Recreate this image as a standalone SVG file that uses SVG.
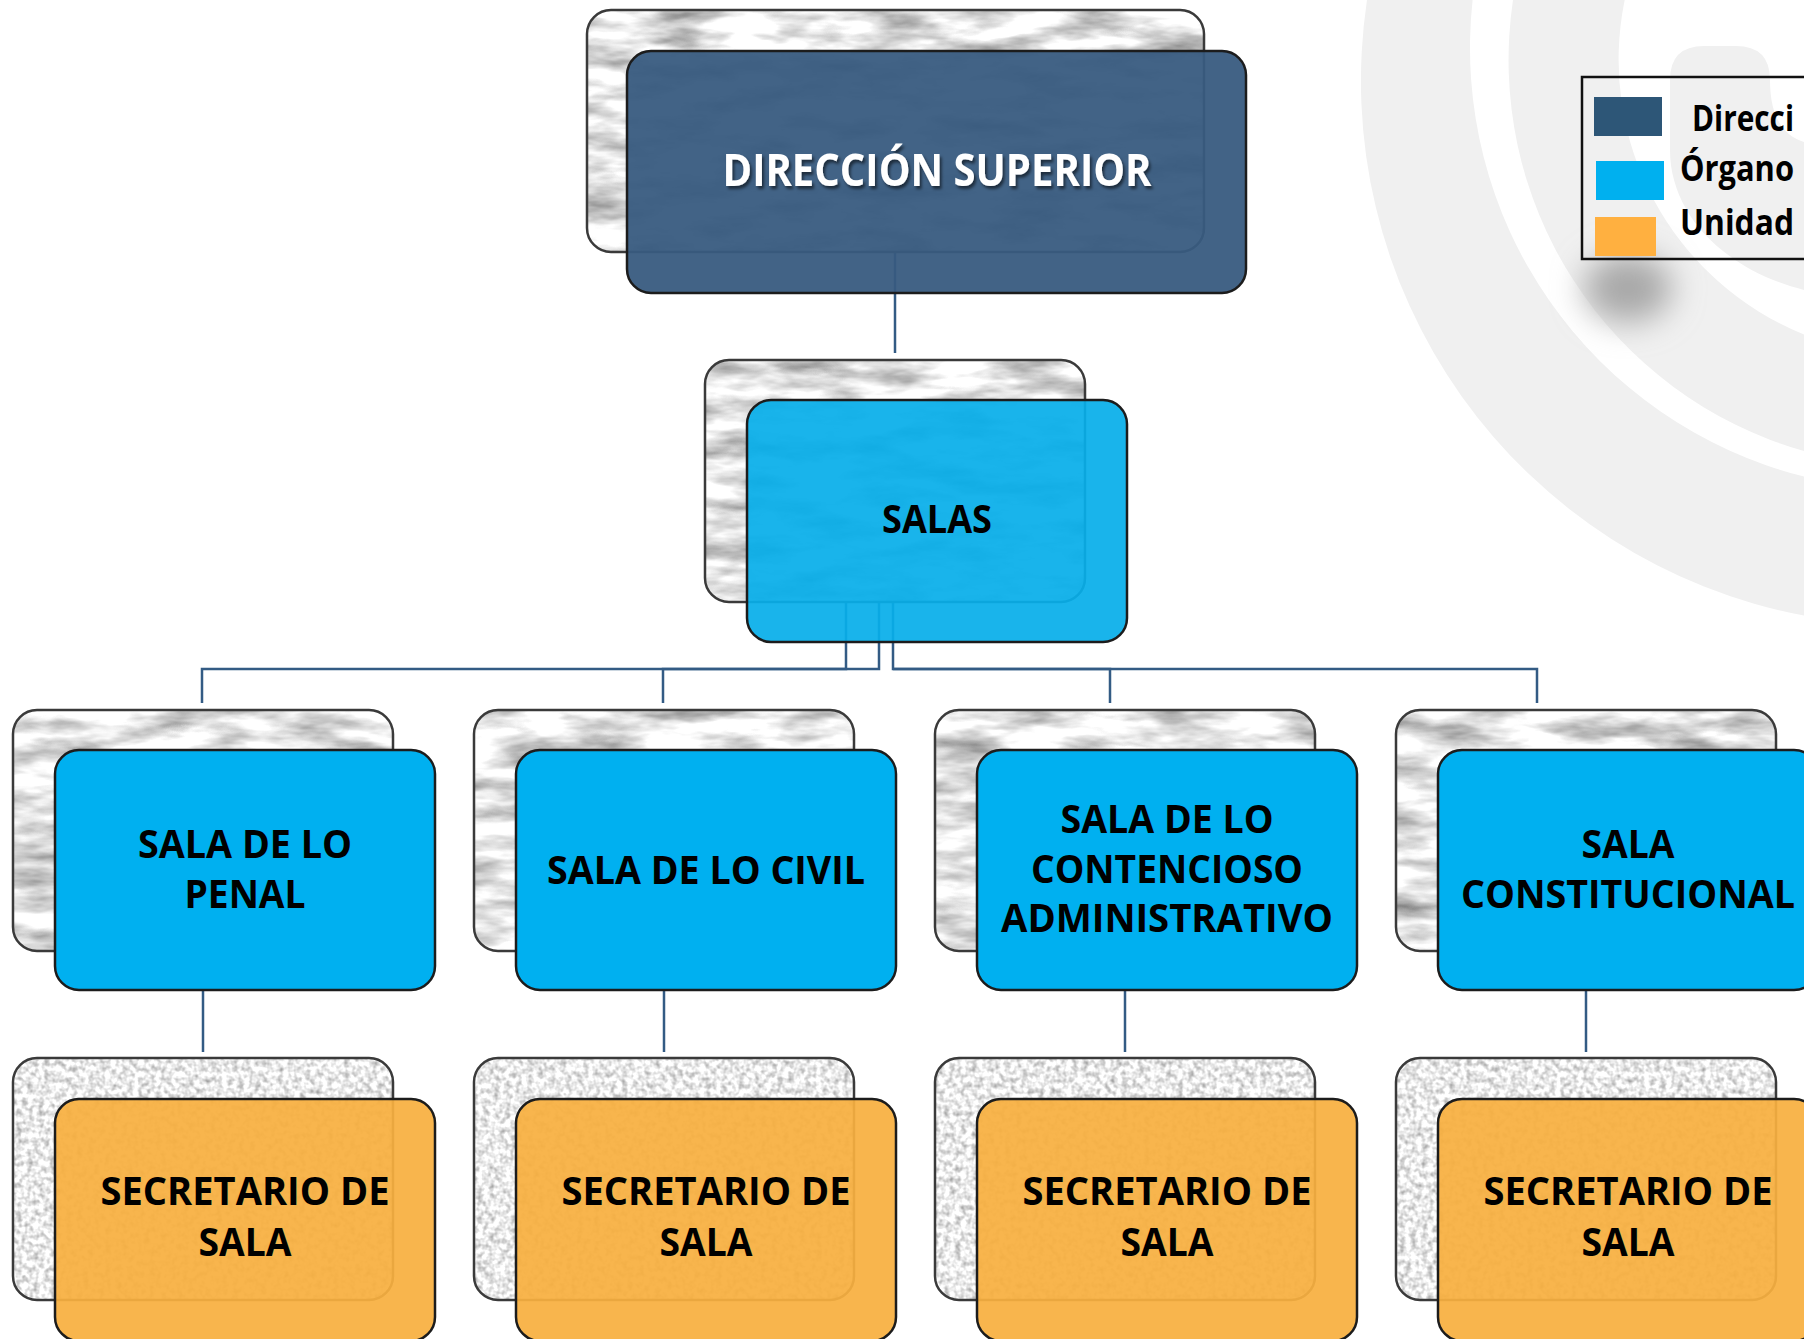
<svg xmlns="http://www.w3.org/2000/svg" width="1804" height="1339" viewBox="0 0 1804 1339">
<defs>
<style>
.bg{fill:#f0f0f0}
.bo{fill:none;stroke:#3a3a3a;stroke-width:2.5}
.fr{stroke:#1c1c1c;stroke-width:2.5}
.dark{fill:#385b80;fill-opacity:.95}
.salas{fill:#08aeea;fill-opacity:.93}
.cyan{fill:#00b0f0}
.orange{fill:#f8af40;fill-opacity:.93}
.conn{fill:none;stroke:#335b84;stroke-width:2.5}
.lbl{font-family:"Open Sans","Liberation Sans",sans-serif;font-weight:700;font-size:39px;fill:#000;text-anchor:middle}
.top{font-size:44px;fill:#fff}
.leg{font-family:"Open Sans","Liberation Sans",sans-serif;font-weight:700;font-size:36px;fill:#000}
</style>
<filter id="marble" x="0" y="0" width="100%" height="100%" color-interpolation-filters="sRGB">
<feTurbulence type="fractalNoise" baseFrequency="0.014 0.05" numOctaves="4" seed="7"/>
<feColorMatrix type="matrix" values="0.9 0 0 0 0.45  0.9 0 0 0 0.45  0.9 0 0 0 0.45  0 0 0 0 1"/>
<feComposite in2="SourceGraphic" operator="in"/>
</filter>
<filter id="granite" x="0" y="0" width="100%" height="100%" color-interpolation-filters="sRGB">
<feTurbulence type="fractalNoise" baseFrequency="0.18" numOctaves="2" seed="3"/>
<feColorMatrix type="matrix" values="0.7 0 0 0 0.57  0.7 0 0 0 0.57  0.7 0 0 0 0.57  0 0 0 0 1"/>
<feComposite in2="SourceGraphic" operator="in"/>
</filter>
<filter id="tshadow" x="-10%" y="-30%" width="120%" height="160%">
<feDropShadow dx="2" dy="3" stdDeviation="1.5" flood-color="#000" flood-opacity="0.55"/>
</filter>
<filter id="blur" x="-100%" y="-100%" width="300%" height="300%">
<feGaussianBlur stdDeviation="16"/>
</filter>
</defs>

<g id="background">
<path class="bg" d="M1367,0 A544,544 0 0 0 1804,615.5 L1804,476.6 A442,442 0 0 1 1472.6,0 Z"/>
<path class="bg" d="M1513,0 A406.5,406.5 0 0 0 1804,451 L1804,334.5 A296.1,296.1 0 0 1 1624.7,0 Z"/>
<path class="bg" d="M1670,80 Q1670,46 1704,46 L1736,46 Q1770,46 1770,80 C1770,118 1784,136 1804,142 L1804,290 C1725,270 1670,215 1670,150 Z"/>
</g>

<g id="legend">
<ellipse cx="1628" cy="288" rx="44" ry="34" fill="#a8a8a8" filter="url(#blur)"/>
<rect x="1582" y="77" width="240" height="182" fill="none" stroke="#111" stroke-width="2.5"/>
<rect x="1594" y="97" width="68" height="39" fill="#2d5677"/>
<rect x="1596" y="161" width="68" height="39" fill="#00b0ef"/>
<rect x="1595" y="217" width="61" height="39" fill="#ffb040"/>
<text class="leg" x="1692" y="131" textLength="102" lengthAdjust="spacingAndGlyphs">Direcci</text>
<text class="leg" x="1680" y="181" textLength="114" lengthAdjust="spacingAndGlyphs">Órgano</text>
<text class="leg" x="1680" y="235" textLength="114" lengthAdjust="spacingAndGlyphs">Unidad</text>
</g>

<g id="connectors">
<path class="conn" d="M895,252 V353"/>
<path class="conn" d="M846,602 V669 H202 V703"/>
<path class="conn" d="M879,602 V669 H663 V703"/>
<path class="conn" d="M893,602 V669 H1110 V703"/>
<path class="conn" d="M893,669 H1537 V703"/>
<path class="conn" d="M203,951 V1052"/>
<path class="conn" d="M664,951 V1052"/>
<path class="conn" d="M1125,951 V1052"/>
<path class="conn" d="M1586,951 V1052"/>
</g>

<g id="node-direccion-superior">
<rect x="587" y="10" width="617" height="242" rx="24" fill="#fff" filter="url(#marble)"/>
<rect class="bo" x="587" y="10" width="617" height="242" rx="24"/>
<rect class="fr dark" x="627" y="51" width="619" height="242" rx="24"/>
<text class="lbl top" x="937" y="186" textLength="429" lengthAdjust="spacingAndGlyphs" filter="url(#tshadow)">DIRECCIÓN SUPERIOR</text>
</g>

<g id="node-salas">
<rect x="705" y="360" width="380" height="242" rx="24" fill="#fff" filter="url(#marble)"/>
<rect class="bo" x="705" y="360" width="380" height="242" rx="24"/>
<rect class="fr salas" x="747" y="400" width="380" height="242" rx="24"/>
<text class="lbl" x="937" y="533" textLength="110" lengthAdjust="spacingAndGlyphs">SALAS</text>
</g>

<g id="node-sala-penal">
<rect x="13" y="710" width="380" height="241" rx="24" fill="#fff" filter="url(#marble)"/>
<rect class="bo" x="13" y="710" width="380" height="241" rx="24"/>
<rect class="fr cyan" x="55" y="750" width="380" height="240" rx="24"/>
<text class="lbl" x="245" y="858" textLength="214" lengthAdjust="spacingAndGlyphs">SALA DE LO</text>
<text class="lbl" x="245" y="908" textLength="121" lengthAdjust="spacingAndGlyphs">PENAL</text>
</g>

<g id="node-sala-civil">
<rect x="474" y="710" width="380" height="241" rx="24" fill="#fff" filter="url(#marble)"/>
<rect class="bo" x="474" y="710" width="380" height="241" rx="24"/>
<rect class="fr cyan" x="516" y="750" width="380" height="240" rx="24"/>
<text class="lbl" x="706" y="884" textLength="318" lengthAdjust="spacingAndGlyphs">SALA DE LO CIVIL</text>
</g>

<g id="node-sala-contencioso">
<rect x="935" y="710" width="380" height="241" rx="24" fill="#fff" filter="url(#marble)"/>
<rect class="bo" x="935" y="710" width="380" height="241" rx="24"/>
<rect class="fr cyan" x="977" y="750" width="380" height="240" rx="24"/>
<text class="lbl" x="1167" y="833" textLength="213" lengthAdjust="spacingAndGlyphs">SALA DE LO</text>
<text class="lbl" x="1167" y="883" textLength="272" lengthAdjust="spacingAndGlyphs">CONTENCIOSO</text>
<text class="lbl" x="1167" y="932" textLength="332" lengthAdjust="spacingAndGlyphs">ADMINISTRATIVO</text>
</g>

<g id="node-sala-constitucional">
<rect x="1396" y="710" width="380" height="241" rx="24" fill="#fff" filter="url(#marble)"/>
<rect class="bo" x="1396" y="710" width="380" height="241" rx="24"/>
<rect class="fr cyan" x="1438" y="750" width="380" height="240" rx="24"/>
<text class="lbl" x="1628" y="858" textLength="93" lengthAdjust="spacingAndGlyphs">SALA</text>
<text class="lbl" x="1628" y="908" textLength="334" lengthAdjust="spacingAndGlyphs">CONSTITUCIONAL</text>
</g>

<g id="node-secretario-1">
<rect x="13" y="1058" width="380" height="242" rx="24" fill="#fff" filter="url(#granite)"/>
<rect class="bo" x="13" y="1058" width="380" height="242" rx="24"/>
<rect class="fr orange" x="55" y="1099" width="380" height="242" rx="24"/>
<text class="lbl" x="245" y="1205" textLength="289" lengthAdjust="spacingAndGlyphs">SECRETARIO DE</text>
<text class="lbl" x="245" y="1256" textLength="93" lengthAdjust="spacingAndGlyphs">SALA</text>
</g>

<g id="node-secretario-2">
<rect x="474" y="1058" width="380" height="242" rx="24" fill="#fff" filter="url(#granite)"/>
<rect class="bo" x="474" y="1058" width="380" height="242" rx="24"/>
<rect class="fr orange" x="516" y="1099" width="380" height="242" rx="24"/>
<text class="lbl" x="706" y="1205" textLength="289" lengthAdjust="spacingAndGlyphs">SECRETARIO DE</text>
<text class="lbl" x="706" y="1256" textLength="93" lengthAdjust="spacingAndGlyphs">SALA</text>
</g>

<g id="node-secretario-3">
<rect x="935" y="1058" width="380" height="242" rx="24" fill="#fff" filter="url(#granite)"/>
<rect class="bo" x="935" y="1058" width="380" height="242" rx="24"/>
<rect class="fr orange" x="977" y="1099" width="380" height="242" rx="24"/>
<text class="lbl" x="1167" y="1205" textLength="289" lengthAdjust="spacingAndGlyphs">SECRETARIO DE</text>
<text class="lbl" x="1167" y="1256" textLength="93" lengthAdjust="spacingAndGlyphs">SALA</text>
</g>

<g id="node-secretario-4">
<rect x="1396" y="1058" width="380" height="242" rx="24" fill="#fff" filter="url(#granite)"/>
<rect class="bo" x="1396" y="1058" width="380" height="242" rx="24"/>
<rect class="fr orange" x="1438" y="1099" width="380" height="242" rx="24"/>
<text class="lbl" x="1628" y="1205" textLength="289" lengthAdjust="spacingAndGlyphs">SECRETARIO DE</text>
<text class="lbl" x="1628" y="1256" textLength="93" lengthAdjust="spacingAndGlyphs">SALA</text>
</g>
</svg>
